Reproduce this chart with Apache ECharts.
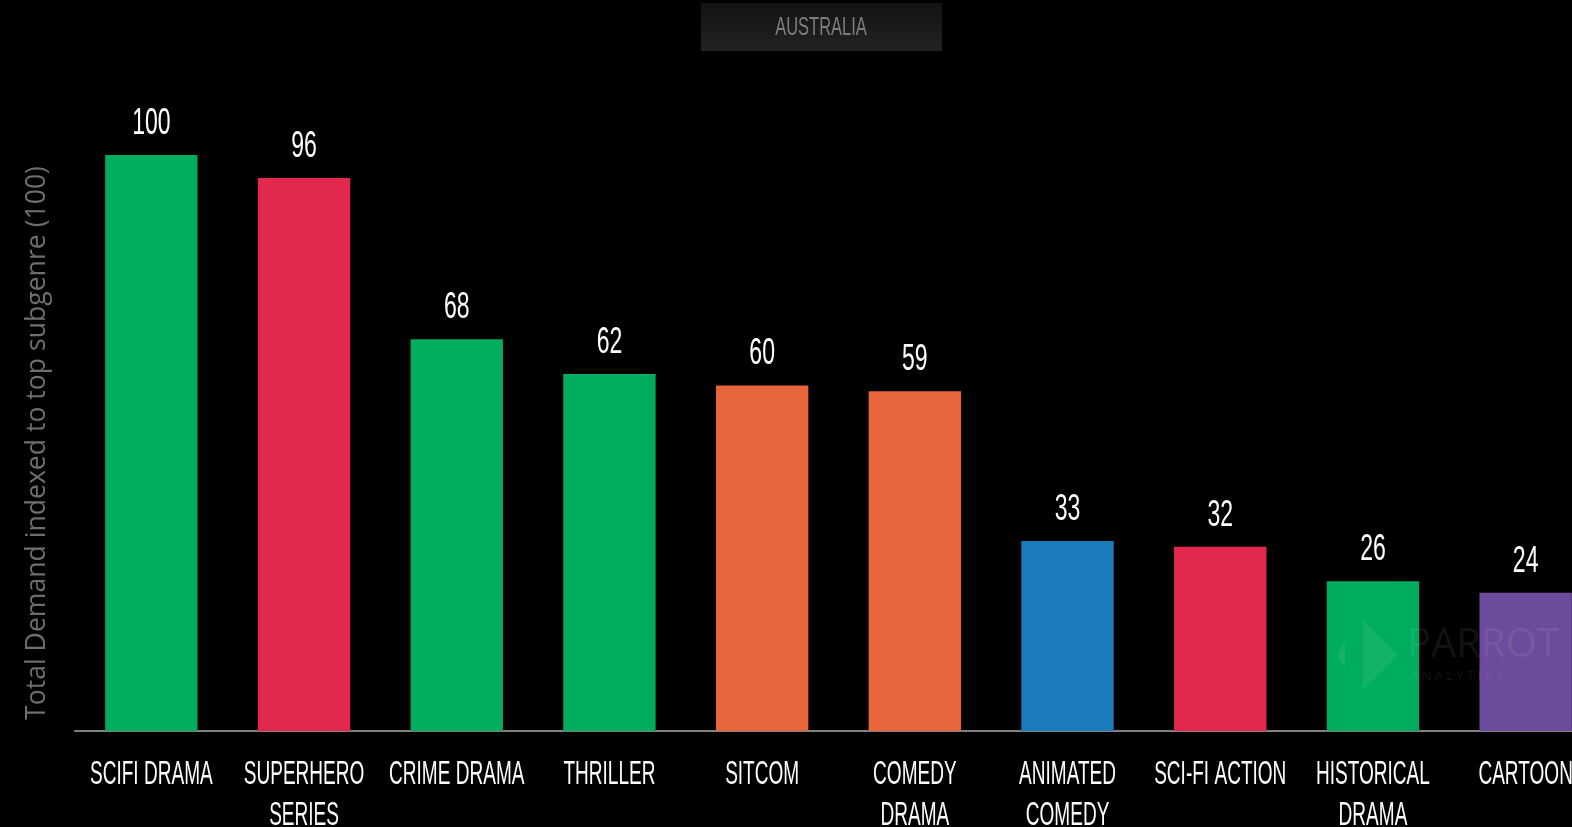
<!DOCTYPE html>
<html>
<head>
<meta charset="utf-8">
<script src="https://cdn.jsdelivr.net/npm/echarts@6/dist/echarts.min.js"></script>
<style>
html,body{margin:0;padding:0;background:#000;}
#chart{width:1572px;height:827px;}
</style>
</head>
<body>
<div id="chart"></div>
<script>
const title = 'AUSTRALIA';
const yAxisName = 'Total Demand indexed to top subgenre (100)';
const categories = ['SCIFI DRAMA','SUPERHERO\nSERIES','CRIME DRAMA','THRILLER','SITCOM','COMEDY\nDRAMA','ANIMATED\nCOMEDY','SCI-FI ACTION','HISTORICAL\nDRAMA','CARTOON'];
const values = [100, 96, 68, 62, 60, 59, 33, 32, 26, 24];
const barColors = ['#00ad5e','#e3284e','#00ad5e','#00ad5e','#e6653b','#e6653b','#1a7bbd','#e3284e','#00ad5e','#6b4b9b'];

const fam = '"Liberation Sans", Arial, sans-serif';
const wm = 'rgba(255,255,255,0.07)';
const chart = echarts.init(document.getElementById('chart'));
chart.setOption({
  backgroundColor: '#000',
  animation: false,
  graphic: [
    {
      type: 'rect', left: 701, top: 3, z: 0,
      shape: { width: 241, height: 48 },
      style: { fill: new echarts.graphic.LinearGradient(0,0,0,1,[{offset:0,color:'#121212'},{offset:1,color:'#232323'}]) }
    },
    {
      type: 'text', x: 821, y: 28, z: 1, scaleX: 0.66,
      style: { text: title, fill: '#7d7d7d', font: '25px ' + fam, align: 'center', verticalAlign: 'middle' }
    },
    { type: 'polygon', z: 100, shape: { points: [[1363,620],[1398,655],[1363,690]] }, style: { fill: wm } },
    { type: 'polygon', z: 100, shape: { points: [[1337,655],[1345,641],[1345,669]] }, style: { fill: wm } },
    { type: 'text', z: 100, left: 1407, top: 626, style: { text: 'PARROT', fill: wm, font: '40px "Open Sans", sans-serif' } },
    { type: 'text', z: 100, left: 1410, top: 670, style: { text: 'A N A L Y T I C S', fill: wm, font: '13px "Open Sans", sans-serif' } }
  ],
  grid: { left: 75, right: -30, top: 155, bottom: 96, containLabel: false, outerBoundsMode: 'none' },
  xAxis: {
    type: 'category',
    data: categories,
    axisLine: { show: true, lineStyle: { color: '#808080', width: 2 } },
    axisTick: { show: false },
    axisLabel: { show: false }
  },
  yAxis: {
    type: 'value', min: 0, max: 100,
    name: yAxisName, nameLocation: 'middle', nameGap: 24,
    nameTextStyle: { color: '#6e6e6e', fontFamily: '"Open Sans", sans-serif', fontSize: 26.6 },
    axisLine: { show: false }, axisTick: { show: false },
    axisLabel: { show: false }, splitLine: { show: false }
  },
  series: [{
    type: 'bar',
    data: values.map((v, i) => ({ value: v, itemStyle: { color: barColors[i] } })),
    barWidth: '60.5%'
  }, {
    type: 'custom',
    z: 5,
    silent: true,
    data: values.map((v, i) => [i, v]),
    renderItem: function (params, api) {
      const i = api.value(0);
      const top = api.coord([i, api.value(1)]);
      const base = api.coord([i, 0]);
      return {
        type: 'group',
        children: [
          {
            type: 'text', x: top[0], y: top[1] - 31, scaleX: 0.64,
            style: { text: String(api.value(1)), fill: '#ffffff', font: '36px ' + fam, align: 'center', verticalAlign: 'middle' }
          },
          {
            type: 'text', x: base[0], y: base[1] + 23, scaleX: 0.56,
            style: { text: categories[i], fill: '#ffffff', font: '34px ' + fam, lineHeight: 41, align: 'center', verticalAlign: 'top' }
          }
        ]
      };
    }
  }]
});
</script>
</body>
</html>
